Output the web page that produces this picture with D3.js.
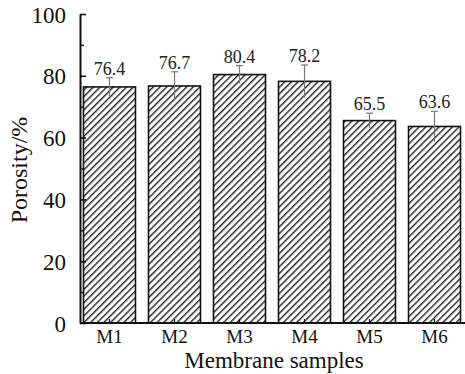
<!DOCTYPE html>
<html><head><meta charset="utf-8">
<script src="https://cdn.jsdelivr.net/npm/d3@7"></script>
<style>html,body{margin:0;padding:0;background:#fff;}svg{display:block;}
svg text{font-family:"Liberation Serif","Times New Roman",serif;}</style>
</head><body>
<svg id="c" width="465" height="374"></svg>
<script>
const categories = ["M1","M2","M3","M4","M5","M6"];
const porosity = [76.4, 76.7, 80.4, 78.2, 65.5, 63.6];
const errors = [3.0, 4.6, 2.9, 5.3, 2.4, 4.9];
const yTicks = [0, 20, 40, 60, 80, 100];
const yMinorTicks = [10, 30, 50, 70, 90];

const svg = d3.select("#c");
const font = '"Liberation Serif","Times New Roman",serif';
const x0 = 80, x1 = 466, yTop = 14, yBot = 323;

const y = d3.scaleLinear().domain([0, 100]).range([yBot, yTop]);
const x = d3.scaleBand().domain(categories).range([77, 467]).paddingInner(0.2).paddingOuter(0.1);

const defs = svg.append("defs");
const pat = defs.append("pattern").attr("id", "hatch").attr("patternUnits", "userSpaceOnUse")
  .attr("width", 4.7).attr("height", 10).attr("patternTransform", "rotate(45)");
pat.append("rect").attr("width", 4.7).attr("height", 10).attr("fill", "#fff");
pat.append("line").attr("x1", 0.7).attr("y1", 0).attr("x2", 0.7).attr("y2", 10)
  .attr("stroke", "#111").attr("stroke-width", 1.3);

// bars
svg.selectAll("rect.bar").data(categories).enter().append("rect")
  .attr("class", "bar")
  .attr("x", d => x(d))
  .attr("y", (d, i) => y(porosity[i]))
  .attr("width", x.bandwidth())
  .attr("height", (d, i) => y(0) - y(porosity[i]))
  .attr("fill", "url(#hatch)")
  .attr("stroke", "#111").attr("stroke-width", 1.6);

// error bars
const eg = svg.append("g").attr("stroke", "#777").attr("stroke-width", 1.2);
categories.forEach((c, i) => {
  const cx = x(c) + x.bandwidth() / 2;
  eg.append("line").attr("x1", cx).attr("x2", cx)
    .attr("y1", y(porosity[i] + errors[i])).attr("y2", y(porosity[i] - errors[i]));
  eg.append("line").attr("x1", cx - 3.5).attr("x2", cx + 3.5)
    .attr("y1", y(porosity[i] + errors[i])).attr("y2", y(porosity[i] + errors[i]));
});

// value labels
svg.selectAll("text.val").data(categories).enter().append("text")
  .attr("class", "val")
  .attr("x", d => x(d) + x.bandwidth() / 2)
  .attr("y", (d, i) => y(porosity[i] + errors[i]) - 3)
  .attr("text-anchor", "middle")
  .style("font-family", font).style("font-size", "18px").attr("fill", "#222")
  .text((d, i) => porosity[i].toFixed(1));

// y axis
const yAxis = d3.axisLeft(y).tickValues(yTicks).tickSizeInner(-6).tickSizeOuter(0).tickPadding(14);
const gy = svg.append("g").attr("transform", `translate(${x0},0)`).call(yAxis);
gy.select(".domain").attr("stroke", "#111").attr("stroke-width", 2);
gy.selectAll(".tick line").attr("stroke", "#111").attr("stroke-width", 1.6);
gy.selectAll(".tick text").style("font-family", font).style("font-size", "23px").attr("fill", "#111").attr("dy", "0.35em");
const gym = svg.append("g").attr("transform", `translate(${x0},0)`)
  .call(d3.axisLeft(y).tickValues(yMinorTicks).tickSizeInner(-4).tickSizeOuter(0).tickFormat(""));
gym.select(".domain").remove();
gym.selectAll(".tick line").attr("stroke", "#111").attr("stroke-width", 1.4);

// x axis
const xAxis = d3.axisBottom(x).tickSizeInner(-4).tickSizeOuter(0).tickPadding(7);
const gx = svg.append("g").attr("transform", `translate(0,${yBot})`).call(xAxis);
gx.select(".domain").attr("d", `M${x0},0H${x1}`).attr("stroke", "#111").attr("stroke-width", 2);
gx.selectAll(".tick line").attr("stroke", "#111").attr("stroke-width", 1.2);
gx.selectAll(".tick text").style("font-family", font).style("font-size", "19px").attr("fill", "#111");

// titles
svg.append("text").attr("x", 274).attr("y", 368).attr("text-anchor", "middle")
  .style("font-family", font).style("font-size", "23px").attr("fill", "#111").text("Membrane samples");
svg.append("text").attr("transform", "translate(27,170) rotate(-90)").attr("text-anchor", "middle")
  .style("font-family", font).style("font-size", "24px").attr("fill", "#111").text("Porosity/%");
</script>
</body></html>
